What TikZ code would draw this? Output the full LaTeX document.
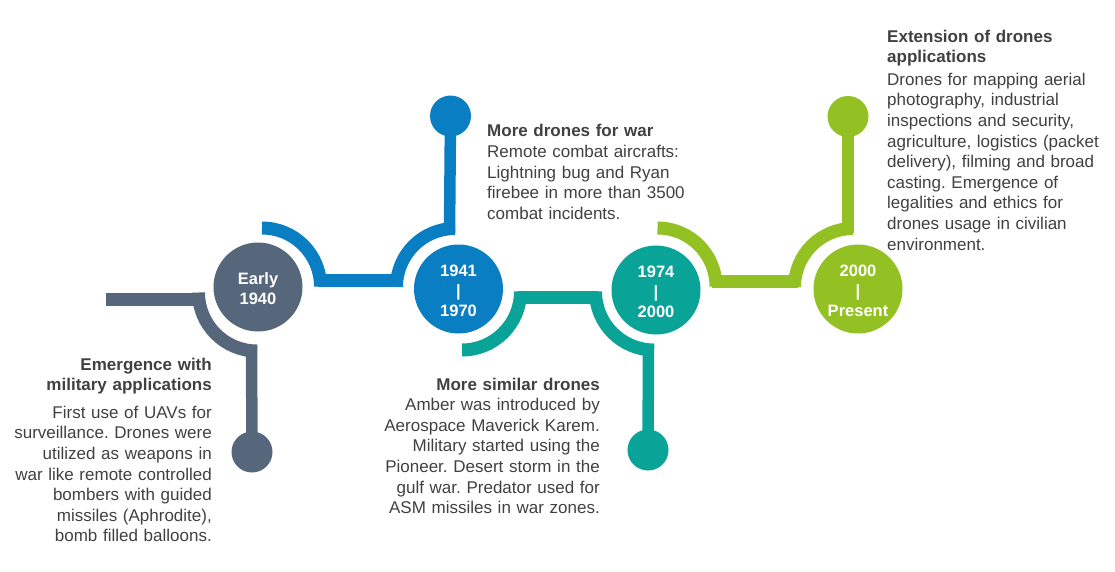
\documentclass[tikz,border=0pt]{standalone}
\usepackage{fontspec}
\setmainfont{Liberation Sans}
\frenchspacing
\definecolor{cgray}{HTML}{56677C}
\definecolor{cblue}{HTML}{0A7EC2}
\definecolor{cteal}{HTML}{0AA398}
\definecolor{cgreen}{HTML}{93C123}
\definecolor{ctext}{HTML}{404040}
\begin{document}
\begin{tikzpicture}[x=1pt,y=1pt,
  band/.style={line width=13pt},
  stem/.style={line width=11.5pt},
  era/.style={circle, minimum size=89pt, inner sep=0pt},
  eralabel/.style={inner sep=0pt, text=white,
    font=\fontsize{16.5}{20}\selectfont\bfseries, align=center},
  dot/.style={circle, minimum size=41pt, inner sep=0pt},
  desc/.style={text=ctext, font=\fontsize{17}{20.6}\selectfont\frenchspacing, inner sep=0pt, text width=240pt}
]
\useasboundingbox (0,0) rectangle (1115,-571);

% ---------- gray (Early 1940) ----------
\coordinate (gL) at (106,-299.5);
\coordinate (gR) at (202,-299.5);
\draw[band,cgray] (gL) -- (gR);
\draw[band,cgray] (257,-292.5) ++(180:58.5) arc[start angle=180,end angle=270,radius=58.5];
\node[dot,fill=cgray] (gdot) at (252,-452) {};
\coordinate (gS) at (251.5,-345);
\draw[stem,cgray] (gS) -- (gdot.center);
\node[era,fill=cgray] (e1) at (258,-287) {};
\node[eralabel] (l1) at ([yshift=-2pt]e1.center) {Early\\1940};

% ---------- blue (1941-1970) ----------
\draw[band,cblue] (262,-286.5) ++(90:58.5) arc[start angle=90,end angle=0,radius=58.5];
\coordinate (bL) at (318,-280.5);
\coordinate (bR) at (398,-280.5);
\draw[band,cblue] (bL) -- (bR);
\draw[band,cblue] (455,-287) ++(180:58.5) arc[start angle=180,end angle=90,radius=58.5];
\node[dot,fill=cblue] (bdot) at (450.5,-116) {};
\coordinate (bS) at (449.5,-233);
\draw[stem,cblue] (bS) -- (bdot.center);
\node[era,fill=cblue] (e2) at (458.5,-289) {};
\node[eralabel] (l2) at ([yshift=-2pt]e2.center) {1941\\|\\1970};

% ---------- teal (1974-2000) ----------
\draw[band,cteal] (462,-291.5) ++(270:58.5) arc[start angle=270,end angle=360,radius=58.5];
\coordinate (tL) at (518,-297);
\coordinate (tR) at (598,-297);
\draw[band,cteal] (tL) -- (tR);
\draw[band,cteal] (654,-291.5) ++(180:58.5) arc[start angle=180,end angle=270,radius=58.5];
\node[dot,fill=cteal] (tdot) at (648,-450) {};
\coordinate (tS) at (648.5,-345);
\draw[stem,cteal] (tS) -- (tdot.center);
\node[era,fill=cteal] (e3) at (656,-290) {};
\node[eralabel] (l3) at ([yshift=-2pt]e3.center) {1974\\|\\2000};

% ---------- green (2000-Present) ----------
\draw[band,cgreen] (657.5,-286.5) ++(90:58.5) arc[start angle=90,end angle=0,radius=58.5];
\coordinate (nL) at (712,-281);
\coordinate (nR) at (798,-281);
\draw[band,cgreen] (nL) -- (nR);
\draw[band,cgreen] (853,-287) ++(180:58.5) arc[start angle=180,end angle=90,radius=58.5];
\node[dot,fill=cgreen] (ndot) at (848,-116.5) {};
\coordinate (nS) at (848,-233);
\draw[stem,cgreen] (nS) -- (ndot.center);
\node[era,fill=cgreen] (e4) at (858,-289) {};
\node[eralabel] (l4) at ([yshift=-2pt]e4.center) {2000\\|\\Present};

% ---------- texts ----------
\node[desc,anchor=base east,align=right] (t1) at (212,-370)
 {\textbf{Emergence with}\\\textbf{military applications}\\[7pt]
  First use of UAVs for\\surveillance. Drones were\\utilized as weapons in\\war like remote controlled\\bombers with guided\\missiles (Aphrodite),\\bomb filled balloons.};
\node[desc,anchor=base west,align=left] (t2) at (487,-136)
 {\textbf{More drones for war}\\[1pt]
  Remote combat aircrafts:\\Lightning bug and Ryan\\firebee in more than 3500\\combat incidents.};
\node[desc,anchor=base east,align=right] (t3) at (600,-390)
 {\textbf{More similar drones}\\
  Amber was introduced by\\Aerospace Maverick Karem.\\Military started using the\\Pioneer. Desert storm in the\\gulf war. Predator used for\\ASM missiles in war zones.};
\node[desc,anchor=base west,align=left] (t4) at (887,-42)
 {\textbf{Extension of drones}\\\textbf{applications}\\[2pt]
  Drones for mapping aerial\\photography, industrial\\inspections and security,\\agriculture, logistics (packet\\delivery), filming and broad\\casting. Emergence of\\legalities and ethics for\\drones usage in civilian\\environment.};
\end{tikzpicture}
\end{document}
